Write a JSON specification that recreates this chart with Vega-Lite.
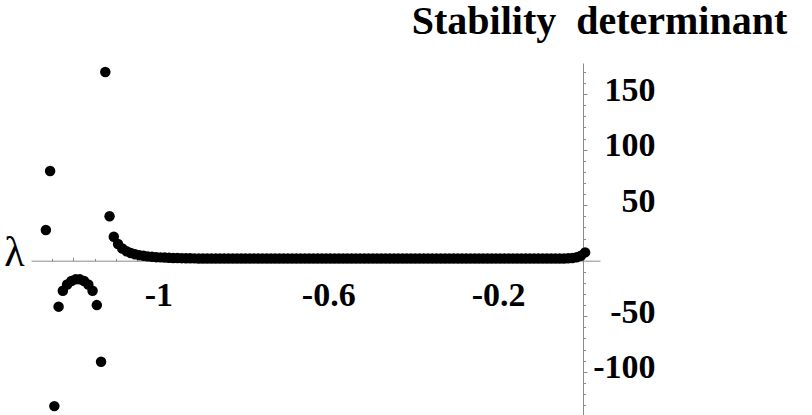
{
  "$schema": "https://vega.github.io/schema/vega-lite/v6.json",
  "width": 569,
  "height": 352,
  "autosize": {"type": "none"},
  "padding": {"left": 31, "top": 63, "right": 212, "bottom": 0},
  "background": "white",
  "config": {
    "view": {"stroke": null},
    "axis": {"grid": false, "labelOverlap": false, "labelFlush": false, "labelBound": false, "domainColor": "#8a8a8a", "tickColor": "#8a8a8a", "domainWidth": 1, "tickWidth": 1}
  },
  "data": {
    "values": [
      {"lam": -1.265, "det": 27.7}, {"lam": -1.255, "det": 80.8}, {"lam": -1.245, "det": -131},
      {"lam": -1.235, "det": -41.4}, {"lam": -1.225, "det": -27}, {"lam": -1.215, "det": -21.5},
      {"lam": -1.205, "det": -18.3}, {"lam": -1.195, "det": -16.8}, {"lam": -1.185, "det": -16.8},
      {"lam": -1.175, "det": -18.3}, {"lam": -1.165, "det": -21.5}, {"lam": -1.155, "det": -27},
      {"lam": -1.145, "det": -40}, {"lam": -1.135, "det": -91}, {"lam": -1.125, "det": 170},
      {"lam": -1.115, "det": 40}, {"lam": -1.105, "det": 21.6}, {"lam": -1.095, "det": 15},
      {"lam": -1.085, "det": 11}, {"lam": -1.075, "det": 8.5}, {"lam": -1.065, "det": 7},
      {"lam": -1.055, "det": 5.8}, {"lam": -1.045, "det": 5}, {"lam": -1.035, "det": 4.4},
      {"lam": -1.025, "det": 3.9}, {"lam": -1.015, "det": 3.5}, {"lam": -1.005, "det": 3.2},
      {"lam": -0.995, "det": 3.0}, {"lam": -0.985, "det": 2.8}, {"lam": -0.975, "det": 2.65},
      {"lam": -0.965, "det": 2.5}, {"lam": -0.955, "det": 2.4}, {"lam": -0.945, "det": 2.3},
      {"lam": -0.935, "det": 2.2}, {"lam": -0.925, "det": 2.15}, {"lam": -0.915, "det": 2.1},
      {"lam": -0.905, "det": 2.05}, {"lam": -0.895, "det": 2.0}, {"lam": -0.885, "det": 2.0},
      {"lam": -0.875, "det": 2.0}, {"lam": -0.865, "det": 2.0}, {"lam": -0.855, "det": 2.0},
      {"lam": -0.845, "det": 2.0}, {"lam": -0.835, "det": 2.0}, {"lam": -0.825, "det": 2.0},
      {"lam": -0.815, "det": 2.0}, {"lam": -0.805, "det": 2.0}, {"lam": -0.795, "det": 2.0},
      {"lam": -0.785, "det": 2.0}, {"lam": -0.775, "det": 2.0}, {"lam": -0.765, "det": 2.0},
      {"lam": -0.755, "det": 2.0}, {"lam": -0.745, "det": 2.0}, {"lam": -0.735, "det": 2.0},
      {"lam": -0.725, "det": 2.0}, {"lam": -0.715, "det": 2.0}, {"lam": -0.705, "det": 2.0},
      {"lam": -0.695, "det": 2.0}, {"lam": -0.685, "det": 2.0}, {"lam": -0.675, "det": 2.0},
      {"lam": -0.665, "det": 2.0}, {"lam": -0.655, "det": 2.0}, {"lam": -0.645, "det": 2.0},
      {"lam": -0.635, "det": 2.0}, {"lam": -0.625, "det": 2.0}, {"lam": -0.615, "det": 2.0},
      {"lam": -0.605, "det": 2.0}, {"lam": -0.595, "det": 2.0}, {"lam": -0.585, "det": 2.0},
      {"lam": -0.575, "det": 2.0}, {"lam": -0.565, "det": 2.0}, {"lam": -0.555, "det": 2.0},
      {"lam": -0.545, "det": 2.0}, {"lam": -0.535, "det": 2.0}, {"lam": -0.525, "det": 2.0},
      {"lam": -0.515, "det": 2.0}, {"lam": -0.505, "det": 2.0}, {"lam": -0.495, "det": 1.95},
      {"lam": -0.485, "det": 1.95}, {"lam": -0.475, "det": 1.95}, {"lam": -0.465, "det": 1.95},
      {"lam": -0.455, "det": 1.95}, {"lam": -0.445, "det": 1.95}, {"lam": -0.435, "det": 1.95},
      {"lam": -0.425, "det": 1.95}, {"lam": -0.415, "det": 1.95}, {"lam": -0.405, "det": 1.95},
      {"lam": -0.395, "det": 1.95}, {"lam": -0.385, "det": 1.95}, {"lam": -0.375, "det": 1.95},
      {"lam": -0.365, "det": 1.95}, {"lam": -0.355, "det": 1.95}, {"lam": -0.345, "det": 1.95},
      {"lam": -0.335, "det": 1.95}, {"lam": -0.325, "det": 1.95}, {"lam": -0.315, "det": 1.95},
      {"lam": -0.305, "det": 1.95}, {"lam": -0.295, "det": 1.95}, {"lam": -0.285, "det": 1.95},
      {"lam": -0.275, "det": 1.95}, {"lam": -0.265, "det": 1.95}, {"lam": -0.255, "det": 1.95},
      {"lam": -0.245, "det": 1.95}, {"lam": -0.235, "det": 1.95}, {"lam": -0.225, "det": 1.95},
      {"lam": -0.215, "det": 1.95}, {"lam": -0.205, "det": 1.95}, {"lam": -0.195, "det": 1.95},
      {"lam": -0.185, "det": 1.95}, {"lam": -0.175, "det": 1.95}, {"lam": -0.165, "det": 1.95},
      {"lam": -0.155, "det": 1.95}, {"lam": -0.145, "det": 1.95}, {"lam": -0.135, "det": 1.95},
      {"lam": -0.125, "det": 1.95}, {"lam": -0.115, "det": 1.95}, {"lam": -0.105, "det": 1.95},
      {"lam": -0.095, "det": 1.95}, {"lam": -0.085, "det": 1.95}, {"lam": -0.075, "det": 1.95},
      {"lam": -0.065, "det": 1.95}, {"lam": -0.055, "det": 2.0}, {"lam": -0.045, "det": 2.05},
      {"lam": -0.035, "det": 2.2}, {"lam": -0.025, "det": 2.5}, {"lam": -0.015, "det": 3.1},
      {"lam": -0.005, "det": 4.4}, {"lam": 0.005, "det": 7.5}
    ]
  },
  "layer": [
    {
      "mark": {"type": "point", "shape": "circle", "filled": true, "color": "black", "opacity": 1, "size": 110, "clip": false},
      "encoding": {
        "x": {
          "field": "lam", "type": "quantitative",
          "scale": {"domain": [-1.3, 0.04], "nice": false, "zero": false},
          "axis": {
            "orient": "bottom", "offset": -154.3,
            "values": [-1.2, -1, -0.8, -0.6, -0.4, -0.2],
            "labelExpr": "datum.value == -1 ? '-1' : (datum.value == -0.6 ? '-0.6' : (datum.value == -0.2 ? '-0.2' : ''))",
            "tickSize": -3.5,
            "labelFont": "Liberation Serif", "labelFontSize": 34, "labelFontWeight": "bold", "labelColor": "black",
            "labelBaseline": "top", "labelAlign": "center", "labelPadding": 21,
            "title": "λ", "titleFont": "Liberation Serif", "titleFontSize": 42, "titleFontWeight": "normal", "titleColor": "black",
            "titleX": -17, "titleY": 5, "titleAlign": "center", "titleBaseline": "alphabetic", "titleAngle": 0
          }
        },
        "y": {
          "field": "det", "type": "quantitative",
          "scale": {"domain": [-139, 178.1], "nice": false, "zero": false},
          "axis": {
            "orient": "right", "offset": -17,
            "values": [-100, -50, 50, 100, 150],
            "labelExpr": "'' + datum.value",
            "tickSize": 4,
            "labelFont": "Liberation Serif", "labelFontSize": 34, "labelFontWeight": "bold", "labelColor": "black",
            "labelAlign": "right", "labelBaseline": "middle", "labelPadding": 68, "labelOffset": -4,
            "title": "Stability\u00a0 determinant", "titleFont": "Liberation Serif", "titleFontSize": 40, "titleFontWeight": "bold", "titleColor": "black",
            "titleX": 16, "titleY": -29.7, "titleAlign": "center", "titleBaseline": "alphabetic", "titleAngle": 0
          }
        }
      }
    },
    {
      "mark": {"type": "point", "opacity": 0, "size": 1},
      "encoding": {
        "x": {
          "field": "lam", "type": "quantitative",
          "axis": {
            "orient": "bottom", "offset": -154.3, "domain": false, "labels": false, "title": null,
            "values": [-1.25, -1.15, -1.1, -1.05, -0.95, -0.9, -0.85, -0.75, -0.7, -0.65, -0.55, -0.5, -0.45, -0.35, -0.3, -0.25, -0.15, -0.1, -0.05],
            "tickSize": -2.3
          }
        },
        "y": {
          "field": "det", "type": "quantitative",
          "axis": {
            "orient": "right", "offset": -17, "domain": false, "labels": false, "title": null,
            "values": [-130, -120, -110, -90, -80, -70, -60, -40, -30, -20, -10, 10, 20, 30, 40, 60, 70, 80, 90, 110, 120, 130, 140, 160, 170],
            "tickSize": 2.5
          }
        }
      }
    }
  ],
  "resolve": {"axis": {"x": "independent", "y": "independent"}}
}
